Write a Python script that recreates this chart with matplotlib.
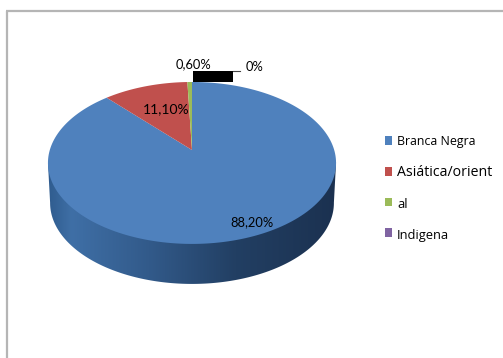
import matplotlib
matplotlib.use("Agg")
import matplotlib.pyplot as plt
import numpy as np
from matplotlib.patches import Polygon, Rectangle
from matplotlib.colors import LinearSegmentedColormap

plt.rcParams['font.family'] = ['Lato', 'DejaVu Sans']

values = [88.2, 11.1, 0.6, 0.0]
value_labels = ["88,20%", "11,10%", "0,60%", "0%"]
legend_labels = ["Branca Negra", "Asiática/orient", "al", "Indigena"]
colors = ["#4f81bd", "#c0504d", "#9bbb59", "#8064a2"]

# pie geometry, in pixels
cx, cy = 192, 150
rad_x, rad_y = 142.2, 78.9
persp = 0.16
depth = 40
bottom_scale = 0.985


def project(angle):
    # clockwise from 12 o'clock, with a bit of perspective
    X = np.sin(angle)
    Y = np.cos(angle)
    w = 1 + persp * Y
    return cx + rad_x * X / w, cy - rad_y * Y / w


def wedge(start, end):
    t = np.linspace(start, end, 200)
    x, y = project(t)
    return np.column_stack([np.r_[cx, x], np.r_[cy, y]])


fig = plt.figure(figsize=(5.03, 3.58), dpi=100)
ax = fig.add_axes([0, 0, 1, 1])
ax.axis("off")

# outer frame
ax.plot([7, 7], [358, 11], color="#b5b5b5", lw=1.6, solid_capstyle="butt")
ax.plot([6, 503], [11, 11], color="#b5b5b5", lw=1.6, solid_capstyle="butt")

# side wall, shaded left to right
t = np.linspace(0, 2 * np.pi, 721)
x, y = project(t)
right, left = x.argmax(), x.argmin()
arc_x = cx + (x[right:left + 1] - cx) * bottom_scale
arc_y = y[right:left + 1] + depth
outline = np.column_stack([np.r_[x[left], arc_x[::-1], x[right]],
                           np.r_[y[left], arc_y[::-1], y[right]]])
cmap = LinearSegmentedColormap.from_list("side", [
    (0.0, "#2f5c8e"), (0.08, "#3f6fa6"), (0.35, "#325a8a"),
    (0.65, "#223f63"), (1.0, "#1b3150")])
img = ax.imshow(np.linspace(0, 1, 256)[None, :], cmap=cmap, aspect="auto",
                extent=[x.min(), x.max(), y.max() + depth, y.min()], zorder=1)
wall = Polygon(outline, closed=True, fc="none", ec="none", transform=ax.transData)
ax.add_patch(wall)
img.set_clip_path(wall)

# top face
angle = 0.0
for v, c in zip(values, colors):
    sweep = v / sum(values) * 2 * np.pi
    if sweep > 0:
        ax.add_patch(Polygon(wedge(angle, angle + sweep), closed=True, fc=c, ec="none", zorder=3))
    angle += sweep

ax.set_xlim(0, 503)
ax.set_ylim(358, 0)

# value labels
ax.text(252.5, 222, value_labels[0], ha="center", va="center", fontsize=9.3, zorder=5)
ax.text(166, 109, value_labels[1], ha="center", va="center", fontsize=10, zorder=5)
ax.text(194, 64, value_labels[2], ha="center", va="center", fontsize=9.3, zorder=5)
ax.text(254.5, 67, value_labels[3], ha="center", va="center", fontsize=9.3, zorder=5)

# leader of the two small slices
ax.add_patch(Rectangle((193, 71), 40, 11, fc="black", ec="none", zorder=4))
ax.plot([233, 240], [70.5, 70.5], color="#444444", lw=0.8, zorder=4)

# legend
box_y = [136, 167, 197.5, 228]
text_y = [142, 173, 204, 235]
text_size = [8.9, 10.2, 9.3, 9.3]
for name, c, by, ty, fs in zip(legend_labels, colors, box_y, text_y, text_size):
    ax.add_patch(Rectangle((385, by), 7.5, 8.5, fc=c, ec="none"))
    ax.text(397, ty, name, ha="left", va="center", fontsize=fs, family="Open Sans")

fig.savefig("out.png", dpi=100)
